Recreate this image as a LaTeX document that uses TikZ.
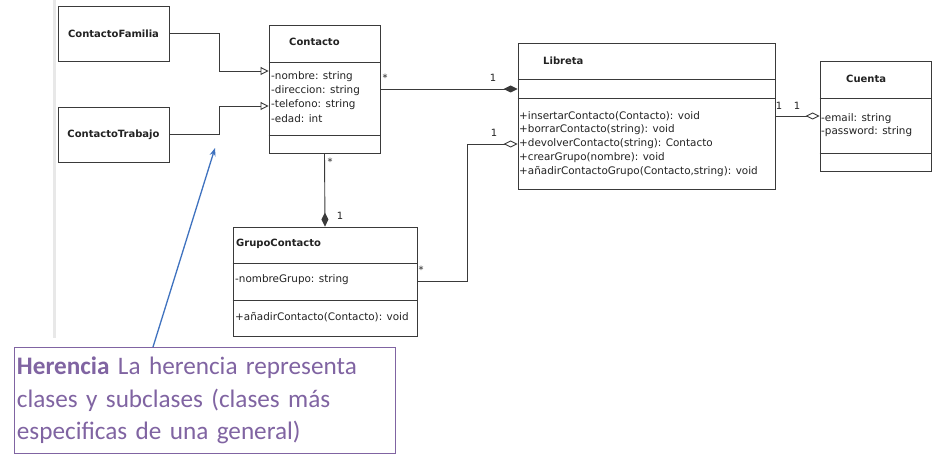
\documentclass[tikz,border=0pt]{standalone}
\usepackage{fontspec}
\setmainfont{DejaVu Sans}
\newfontfamily\notefont{Carlito}
\usetikzlibrary{arrows.meta,shadows}
\definecolor{umlline}{HTML}{3A3A3A}
\definecolor{umltext}{HTML}{222222}
\definecolor{notepurple}{HTML}{8064A2}
\definecolor{arrowblue}{HTML}{3F72BF}
\begin{document}
\begin{tikzpicture}[x=1pt,y=-1pt,
  cls/.style={draw=umlline, line width=0.9pt, fill=white, inner sep=0pt,
    font=\fontsize{10}{12}\selectfont\bfseries, text=umltext,
    drop shadow={shadow xshift=1.2pt,shadow yshift=-1.2pt,opacity=0.3}},
  ttl/.style={font=\fontsize{10}{12}\selectfont\bfseries, text=umltext, anchor=west, inner sep=0pt},
  mem/.style={font=\fontsize{10.4}{12}\selectfont, text=umltext, anchor=west, inner sep=0pt},
  conn/.style={draw=umlline, line width=0.9pt},
  gen/.style={conn, -{Triangle[open,length=8pt,width=8pt]}},
  comp/.style={conn, -{Diamond[length=14pt,width=7pt]}},
  aggr/.style={conn, -{Diamond[open,length=14pt,width=7pt,fill=white]}},
  mult/.style={font=\fontsize{10}{12}\selectfont, text=umltext, inner sep=0pt}
]
\useasboundingbox (0,0) rectangle (937,457);
\fill[white] (0,0) rectangle (937,457);
\fill[gray!18] (53,0) rectangle (56,338);

% class boxes
\node[cls, minimum width=111pt, minimum height=55pt] (familia) at (113.5,33.5) {ContactoFamilia};
\node[cls, minimum width=111pt, minimum height=55pt] (trabajo) at (113.5,134.5) {ContactoTrabajo};
\node[cls, minimum width=111pt, minimum height=128pt] (contacto) at (324.5,89) {};
\node[cls, minimum width=257pt, minimum height=146pt] (libreta) at (646.5,116) {};
\node[cls, minimum width=111pt, minimum height=110pt] (cuenta) at (875.5,116) {};
\node[cls, minimum width=184pt, minimum height=109pt] (grupo) at (325,281.5) {};

% dividers
\draw[conn] (contacto.west |- 0,62) -- (contacto.east |- 0,62);
\draw[conn] (contacto.west |- 0,135) -- (contacto.east |- 0,135);
\draw[conn] (libreta.west |- 0,79) -- (libreta.east |- 0,79);
\draw[conn] (libreta.west |- 0,98) -- (libreta.east |- 0,98);
\draw[conn] (cuenta.west |- 0,98) -- (cuenta.east |- 0,98);
\draw[conn] (cuenta.west |- 0,153) -- (cuenta.east |- 0,153);
\draw[conn] (grupo.west |- 0,263) -- (grupo.east |- 0,263);
\draw[conn] (grupo.west |- 0,300) -- (grupo.east |- 0,300);

% titles
\node[ttl] (tcontacto) at (289,42) {Contacto};
\node[ttl] (tlibreta) at (543,61) {Libreta};
\node[ttl] (tcuenta) at (846,79) {Cuenta};
\node[ttl] (tgrupo) at (236,244) {GrupoContacto};

% members
\node[mem] (c1) at (271,77) {-nombre: string};
\node[mem] (c2) at (271,91) {-direccion: string};
\node[mem] (c3) at (271,105) {-telefono: string};
\node[mem] (c4) at (271,119) {-edad: int};
\node[mem] (l1) at (519,116) {+insertarContacto(Contacto): void};
\node[mem] (l2) at (519,130) {+borrarContacto(string): void};
\node[mem] (l3) at (519,144) {+devolverContacto(string): Contacto};
\node[mem] (l4) at (519,158) {+crearGrupo(nombre): void};
\node[mem] (l5) at (519,172) {+añadirContactoGrupo(Contacto,string): void};
\node[mem] (q1) at (821,119) {-email: string};
\node[mem] (q2) at (821,132) {-password: string};
\node[mem] (g1) at (235,280) {-nombreGrupo: string};
\node[mem] (g2) at (235,317) {+añadirContacto(Contacto): void};

% connectors
\draw[gen] (familia.east) -- (219,33.5) |- (contacto.west |- 0,71);
\draw[gen] (trabajo.east) -- (219,134.5) |- (contacto.west |- 0,106);
\draw[comp] (contacto.east) -- (libreta.west |- contacto.east);
\draw[comp] (contacto.south) -- (grupo.north);
\draw[aggr] (grupo.east) -- (467,281.5) |- (libreta.west |- 0,144);
\draw[aggr] (libreta.east) -- (cuenta.west);

% multiplicities
\node[mult] (m1) at (385,78) {*};
\node[mult] (m2) at (493,78) {1};
\node[mult] (m3) at (494,133) {1};
\node[mult] (m4) at (779,106) {1};
\node[mult] (m5) at (797,106) {1};
\node[mult] (m6) at (330,162) {*};
\node[mult] (m7) at (340,216) {1};
\node[mult] (m8) at (421,270) {*};

% note
\node[draw=notepurple, line width=0.9pt, anchor=north west, minimum width=381pt, minimum height=106pt,
  text width=376pt, align=left, inner xsep=1.5pt, inner ysep=2pt,
  font=\notefont\fontsize{25.2}{32.5}\selectfont, text=notepurple] (note) at (14,347)
  {\textbf{Herencia} La herencia representa\\clases y subclases (clases más\\especificas de una general)};
\coordinate (tail) at (153,347);
\coordinate (head) at (215,148);
\draw[arrowblue, line width=1.3pt, -{Stealth[length=8pt,width=6pt]}] (tail) -- (head);
\end{tikzpicture}
\end{document}
